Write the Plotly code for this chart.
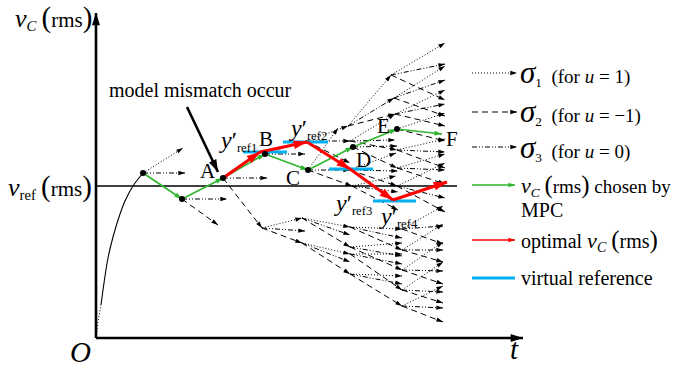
import math
import plotly.graph_objects as go

W, H = 683, 372
SERIF = "Liberation Serif, Times New Roman, serif"

# ---- axes of the sketch (pixel frame: x to the right, y downward) ----
origin = (96, 338)
y_axis_tip = (96, 13)
x_axis_tip = (523, 338)
v_ref_y = 186
v_ref_x = (96, 457)

# start-up transient of v_C(rms)
rise_dot_x = [96, 98, 101]
rise_dot_y = [338, 322, 305]
rise_x = [101, 104, 108, 113, 119, 125, 133, 143]
rise_y = [305, 283, 258, 237, 217, 201, 186, 173]

# ---- states reached by the prediction tree ----
nodes = {
    "P1": (143, 173), "P2": (182, 199), "A": (223, 178), "B": (265, 154),
    "C": (308, 170), "D": (353, 147), "E": (397, 129), "F": (442, 134),
    "Q1": (306, 141), "U1": (348, 126), "U2": (350, 141), "M": (350, 170),
    "L": (352, 186),
    "V1": (391, 75), "V2": (394, 98), "V3": (395, 114), "V5": (397, 150),
    "V6": (397, 168), "V7": (397, 186),
    "R0": (262, 228), "N1": (302, 218), "N2": (305, 231), "N3": (302, 243),
    "K1": (350, 227), "K2": (350, 247), "K3": (350, 254), "K4": (350, 274),
    "W1": (402, 229), "W2": (402, 250), "W3": (402, 270), "W4": (402, 290),
    "W5": (402, 306),
}
dotted_nodes = ["P1", "P2", "A", "B", "C", "D", "E"]

# sigma_1 branches (u = 1)
sigma1_edges = [
    ("P1", (183, 148)), ("B", "Q1"), ("Q1", "U1"), ("U1", "V1"), ("U2", "V3"),
    ("M", (396, 153)), ("L", (396, 176)), ("C", (338, 128)),
    ("V1", (445, 43)), ("V2", (445, 66)), ("V3", (445, 90)), ("E", (445, 113)),
    ("V5", (445, 139)), ("V6", (445, 154)), ("V7", (445, 163)),
    ("R0", "N1"), ("N1", "K1"), ("N3", "K3"), ("K1", "W1"), ("K2", (402, 243)),
    ("K3", (402, 254)), ("K4", (402, 276)),
    ("W1", (443, 206)), ("W2", (443, 224)), ("W3", (443, 242)),
    ("W4", (443, 262)), ("W5", (443, 286)),
]
# sigma_2 branches (u = -1)
sigma2_edges = [
    ("P2", (218, 225)), ("A", "R0"), ("Q1", (350, 163)), ("C", "L"),
    ("U1", "V3"), ("U2", "V5"), ("D", "V6"), ("M", "V7"), ("L", (398, 210)),
    ("V1", (445, 100)), ("V2", (445, 116)), ("V3", (445, 126)), ("E", (445, 141)),
    ("V5", (445, 168)), ("V6", (445, 184)), ("V7", (445, 212)),
    ("R0", "N3"), ("N1", "K2"), ("N3", "K4"), ("K1", "W2"), ("K2", "W3"),
    ("K3", "W4"), ("K4", "W5"),
    ("W1", (443, 244)), ("W2", (443, 262)), ("W3", (443, 284)),
    ("W4", (443, 303)), ("W5", (443, 322)),
]
# sigma_3 branches (u = 0)
sigma3_edges = [
    ("P1", (185, 173)), ("P2", (227, 199)), ("A", (267, 178)), ("B", (305, 154)),
    ("Q1", "U2"), ("C", "M"), ("U1", "V2"), ("U2", (395, 140)), ("D", (397, 146)),
    ("M", (398, 171)), ("L", (398, 192)),
    ("V1", (445, 64)), ("V2", (445, 80)), ("V3", (445, 104)), ("V5", (445, 152)),
    ("V6", (445, 170)), ("V7", (445, 198)),
    ("R0", "N2"), ("N1", (350, 235)), ("N3", (350, 262)), ("K1", (402, 238)),
    ("K2", (402, 256)), ("K3", (402, 264)), ("K4", (402, 284)),
    ("W1", (443, 226)), ("W2", (443, 250)), ("W3", (443, 271)),
    ("W4", (443, 292)), ("W5", (443, 308)),
]

# trajectory chosen by MPC and the optimal one
mpc_path = ["P1", "P2", "A", "B", "C", "D", "E", "F"]
optimal_x = [223, 260, 307, 350, 393, 447]
optimal_y = [178, 152, 142, 169, 200, 182]

# virtual references y'_ref1..4: (x start, x end, level)
ref_x0 = [243, 283, 329, 373]
ref_x1 = [287, 328, 373, 416]
ref_level = [152, 142, 169, 201]

# annotation arrow pointing at A
mismatch_from = (187, 107)
mismatch_to = (218, 172)

DOT = "1px,2px"
DASH = "6px,4px"
DASHDOT = "5px,2px,1px,2px,1px,2px"
GREEN = "#2fb52f"
RED = "#ff0000"
BLUE = "#00b0f0"


def pt(p):
    return nodes[p] if isinstance(p, str) else p


def heading(p0, p1):
    return math.degrees(math.atan2(p1[0] - p0[0], -(p1[1] - p0[1])))


fig = go.Figure()


def arrows(segs, color, width, dash, head, line_only=False):
    xs, ys, tx, ty, ang = [], [], [], [], []
    for a, b in segs:
        xs += [a[0], b[0], None]
        ys += [a[1], b[1], None]
        tx.append(b[0])
        ty.append(b[1])
        ang.append(heading(a, b))
    fig.add_trace(go.Scatter(x=xs, y=ys, mode="lines", hoverinfo="skip",
                             line=dict(color=color, width=width, dash=dash)))
    if not line_only:
        fig.add_trace(go.Scatter(x=tx, y=ty, mode="markers", hoverinfo="skip",
                                 marker=dict(symbol="arrow", size=head, angle=ang,
                                             color=color, line=dict(width=0))))


# axes
arrows([(origin, y_axis_tip), (origin, x_axis_tip)], "black", 2.6, "solid", 13)
fig.add_trace(go.Scatter(x=list(v_ref_x), y=[v_ref_y, v_ref_y], mode="lines",
                         hoverinfo="skip", line=dict(color="black", width=1.4)))

# start-up curve
fig.add_trace(go.Scatter(x=rise_dot_x, y=rise_dot_y, mode="lines", hoverinfo="skip",
                         line=dict(color="black", width=1, dash=DOT)))
fig.add_trace(go.Scatter(x=rise_x, y=rise_y, mode="lines", hoverinfo="skip",
                         line=dict(color="black", width=1.1, shape="spline")))

# prediction tree
arrows([(pt(a), pt(b)) for a, b in sigma1_edges], "black", 1, DOT, 7)
arrows([(pt(a), pt(b)) for a, b in sigma2_edges], "black", 1, DASH, 7)
arrows([(pt(a), pt(b)) for a, b in sigma3_edges], "black", 1, DASHDOT, 7)

# virtual references
arrows([((x0, lv), (x1, lv)) for x0, x1, lv in zip(ref_x0, ref_x1, ref_level)],
       BLUE, 3, "solid", 0, line_only=True)

# chosen and optimal trajectories
arrows([(nodes[a], nodes[b]) for a, b in zip(mpc_path[:-1], mpc_path[1:])],
       GREEN, 1.6, "solid", 8)
opt = list(zip(optimal_x, optimal_y))
arrows(list(zip(opt[:-1], opt[1:])), RED, 3, "solid", 14)

# sampled states
fig.add_trace(go.Scatter(x=[nodes[n][0] for n in dotted_nodes],
                         y=[nodes[n][1] for n in dotted_nodes], mode="markers",
                         hoverinfo="skip", marker=dict(color="black", size=6)))

# model-mismatch pointer
arrows([(mismatch_from, mismatch_to)], "black", 2.6, "solid", 13)

# legend glyphs
leg_x0, leg_x1 = 472, 517
arrows([((leg_x0, 73), (leg_x1, 73))], "black", 1, DOT, 7)
arrows([((leg_x0, 112), (leg_x1, 112))], "black", 1.2, DASH, 7)
arrows([((leg_x0, 147), (leg_x1, 147))], "black", 1.2, DASHDOT, 7)
arrows([((leg_x0, 185), (leg_x1 - 2, 185))], GREEN, 1.3, "solid", 7)
arrows([((leg_x0, 240), (leg_x1 - 2, 240))], RED, 1.3, "solid", 7)
arrows([((leg_x0, 278), (leg_x1 - 2, 278))], BLUE, 3, "solid", 0, line_only=True)

ann = []


def text(x, y, s, size=16, xanchor="left"):
    ann.append(dict(x=x, y=y, text=s, showarrow=False, xanchor=xanchor,
                    yanchor="middle", font=dict(family=SERIF, size=size, color="black")))


def rms(p):
    return (" <span style='font-size:%dpx'>(</span>rms<span style='font-size:%dpx'>)</span>"
            % (p, p))


def v_sym(vsize, sub, italic_sub=True):
    s = "<i>%s</i>" % sub if italic_sub else sub
    return "<span style='font-size:%dpx'><i>v</i></span><sub>%s</sub>" % (vsize, s)


text(13, 17, v_sym(26, "C") + rms(29), 21)
text(6, 186, v_sym(26, "ref", False) + rms(29), 21)
text(80, 352, "<i>O</i>", 29, "center")
text(514, 349, "<i>t</i>", 29, "center")
text(107, 90, "model mismatch occur", 20)

text(208, 171, "A", 21, "center")
text(266, 139, "B", 21, "center")
text(293, 178, "C", 21, "center")
text(363, 160, "D", 21, "center")
text(383, 126, "E", 21, "center")
text(452, 139, "F", 21, "center")

YP = "<span style='font-size:24px'><i>y</i>′</span><sub>ref{}</sub>"
text(238, 141, YP.format(1), 18, "center")
text(308, 129, YP.format(2), 18, "center")
text(353, 204, YP.format(3), 18, "center")
text(398, 217, YP.format(4), 18, "center")

SIG = "<span style='font-size:31px'><i>σ</i></span><sub>{}</sub>  (for <i>u</i> = {})"
text(518, 72, SIG.format(1, "1"), 19)
text(518, 111, SIG.format(2, "−1"), 19)
text(518, 147, SIG.format(3, "0"), 19)
text(519, 185, v_sym(22, "C") + rms(25) + " chosen by", 19)
text(519, 210, "MPC", 20)
text(519, 240, "optimal " + v_sym(22, "C") + rms(25), 20)
text(519, 278, "virtual reference", 20)

fig.update_layout(
    width=W, height=H, autosize=False,
    margin=dict(l=0, r=0, t=0, b=0, pad=0),
    paper_bgcolor="white", plot_bgcolor="white",
    showlegend=False,
    xaxis=dict(range=[0, W], visible=False, fixedrange=True),
    yaxis=dict(range=[H, 0], visible=False, fixedrange=True),
    annotations=ann,
)

fig.write_html("out.html", config={"displayModeBar": False})
